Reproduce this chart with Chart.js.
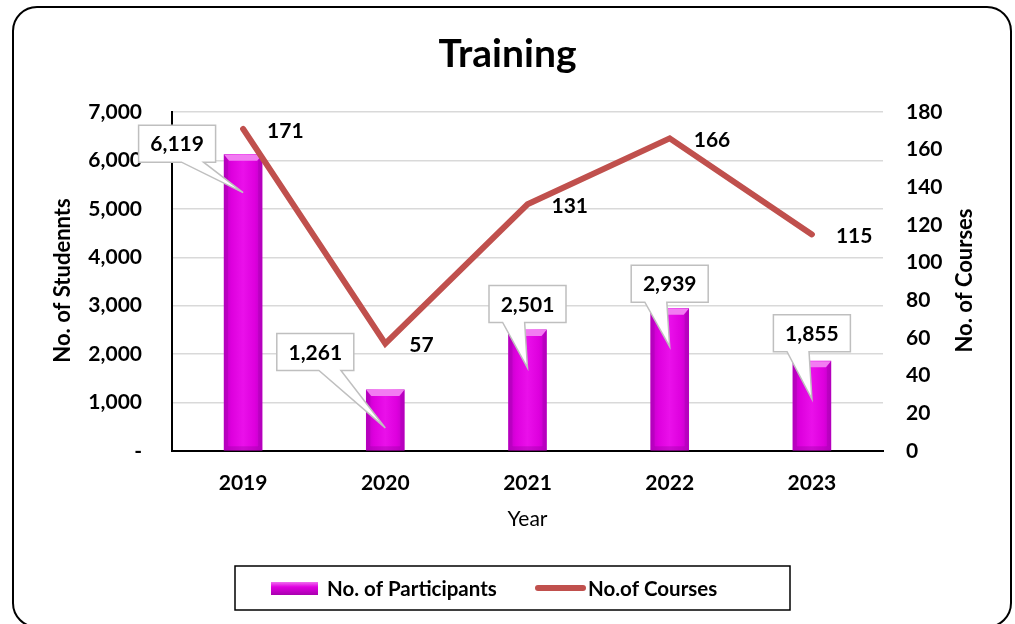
<!DOCTYPE html>
<html><head><meta charset="utf-8">
<script src="https://cdn.jsdelivr.net/npm/chart.js@4.4.1/dist/chart.umd.min.js"></script>
<style>html,body{margin:0;padding:0;background:#fff}canvas{display:block}</style>
</head><body>
<canvas id="c" width="1015" height="624"></canvas>
<script>
const years = ['2019', '2020', '2021', '2022', '2023'];
const participants = [6119, 1261, 2501, 2939, 1855];
const courses = [171, 57, 131, 166, 115];
const chartTitle = 'Training';
const leftAxisTitle = 'No. of Studennts';
const rightAxisTitle = 'No. of Courses';
const xAxisTitle = 'Year';
const seriesNames = ['No. of Participants', 'No.of Courses'];

const FONT = 'Lato, "Liberation Sans", sans-serif';
Chart.defaults.font.family = FONT;
Chart.defaults.color = '#000';

const fmt = v => v.toLocaleString('en-US');

// callout placement style (box centre offset from bar top, tail base position as fraction of box width)
const calloutStyle = [
  { dx: -66, dy: -11, base: 0.70 },
  { dx: -70, dy: -38, base: 0.69 },
  { dx: 0, dy: -26, base: 0.32 },
  { dx: 0, dy: -25, base: 0.32 },
  { dx: 0, dy: -28, base: 0.32 }
];

const decorPlugin = {
  id: 'decor',
  afterDatasetDraw(chart, args) {
    if (args.index !== 0) return;
    const ctx = chart.ctx;
    const meta = chart.getDatasetMeta(0);
    meta.data.forEach(bar => {
      const w = bar.width, x0 = bar.x - w / 2, x1 = bar.x + w / 2, y = bar.y, b = bar.base;
      ctx.save();
      ctx.beginPath();
      ctx.moveTo(x0, y); ctx.lineTo(x1, y); ctx.lineTo(x1 - 5, y + 6); ctx.lineTo(x0 + 5, y + 6); ctx.closePath();
      ctx.fillStyle = '#F27CF2'; ctx.fill();
      ctx.beginPath();
      ctx.moveTo(x0, y); ctx.lineTo(x0 + 4, y + 6); ctx.lineTo(x0 + 4, b - 4); ctx.lineTo(x0, b); ctx.closePath();
      ctx.fillStyle = 'rgba(150,0,160,0.3)'; ctx.fill();
      ctx.beginPath();
      ctx.moveTo(x1, y); ctx.lineTo(x1 - 4, y + 6); ctx.lineTo(x1 - 4, b - 4); ctx.lineTo(x1, b); ctx.closePath();
      ctx.fillStyle = 'rgba(150,0,160,0.3)'; ctx.fill();
      ctx.beginPath();
      ctx.moveTo(x0, b); ctx.lineTo(x0 + 4, b - 4); ctx.lineTo(x1 - 4, b - 4); ctx.lineTo(x1, b); ctx.closePath();
      ctx.fillStyle = 'rgba(150,0,160,0.35)'; ctx.fill();
      ctx.restore();
    });
  },
  afterDraw(chart) {
    const ctx = chart.ctx;
    const area = chart.chartArea;
    ctx.save();
    const meta = chart.getDatasetMeta(0);
    ctx.font = 'bold 21px ' + FONT;
    meta.data.forEach((bar, i) => {
      const st = calloutStyle[i];
      const bw = 77, bh = 37;
      const cx = bar.x + st.dx, cy = bar.y + st.dy;
      const L = cx - bw / 2, R = cx + bw / 2, T = cy - bh / 2, B = cy + bh / 2;
      const tipX = bar.x, tipY = bar.y + 38;
      const bc = L + st.base * bw;
      ctx.beginPath();
      ctx.moveTo(L, T); ctx.lineTo(R, T); ctx.lineTo(R, B);
      ctx.lineTo(bc + 11, B); ctx.lineTo(tipX, tipY); ctx.lineTo(bc - 11, B);
      ctx.lineTo(L, B); ctx.closePath();
      ctx.fillStyle = '#fff'; ctx.fill();
      ctx.strokeStyle = '#BFBFBF'; ctx.lineWidth = 1.5; ctx.stroke();
      ctx.fillStyle = '#000'; ctx.textAlign = 'center'; ctx.textBaseline = 'middle';
      ctx.fillText(fmt(participants[i]), cx, cy + 1);
    });
    const lmeta = chart.getDatasetMeta(1);
    lmeta.data.forEach((pt, i) => {
      ctx.fillStyle = '#000'; ctx.textAlign = 'left'; ctx.textBaseline = 'middle';
      ctx.fillText(String(courses[i]), pt.x + 24, pt.y + 2);
    });
    ctx.font = 'bold 22px ' + FONT;
    const midY = (area.top + area.bottom) / 2;
    ctx.save(); ctx.translate(63, midY - 1); ctx.rotate(-Math.PI / 2);
    ctx.textAlign = 'center'; ctx.textBaseline = 'middle'; ctx.fillText(leftAxisTitle, 0, 0); ctx.restore();
    ctx.save(); ctx.translate(965, midY - 1); ctx.rotate(-Math.PI / 2);
    ctx.textAlign = 'center'; ctx.textBaseline = 'middle'; ctx.fillText(rightAxisTitle, 0, 0); ctx.restore();
    ctx.font = '21px ' + FONT;
    ctx.textAlign = 'center'; ctx.textBaseline = 'middle';
    ctx.fillText(xAxisTitle, (area.left + area.right) / 2, 519);
    ctx.lineWidth = 1.5; ctx.strokeStyle = '#000';
    ctx.strokeRect(235, 566, 555, 44);
    const g = ctx.createLinearGradient(0, 582, 0, 596);
    g.addColorStop(0, '#F070F0'); g.addColorStop(0.35, '#E000E0'); g.addColorStop(1, '#A000A8');
    ctx.fillStyle = g; ctx.fillRect(271, 582, 47, 13);
    ctx.fillStyle = '#000'; ctx.textAlign = 'left'; ctx.textBaseline = 'middle';
    ctx.font = 'bold 20.5px ' + FONT;
    ctx.fillText(seriesNames[0], 327, 589);
    ctx.beginPath(); ctx.moveTo(538, 588); ctx.lineTo(583, 588);
    ctx.strokeStyle = '#C0504D'; ctx.lineWidth = 6; ctx.lineCap = 'round'; ctx.stroke();
    ctx.fillStyle = '#000';
    ctx.fillText(seriesNames[1], 588, 589);
    ctx.beginPath();
    ctx.roundRect(13, 7, 998, 620, 24);
    ctx.strokeStyle = '#000'; ctx.lineWidth = 2; ctx.lineCap = 'butt'; ctx.stroke();
    ctx.restore();
  }
};

new Chart(document.getElementById('c'), {
  data: {
    labels: years,
    datasets: [
      {
        type: 'bar',
        label: seriesNames[0],
        data: participants,
        yAxisID: 'y',
        order: 1,
        barThickness: 38,
        backgroundColor: (c) => {
          const chart = c.chart;
          if (c.type !== 'data' || !chart.scales.x) return '#DD00DD';
          const x = chart.scales.x.getPixelForValue(c.dataIndex);
          if (!isFinite(x)) return '#DD00DD';
          const g = chart.ctx.createLinearGradient(x - 19, 0, x + 19, 0);
          g.addColorStop(0, '#C000C8');
          g.addColorStop(0.2, '#DE00DE');
          g.addColorStop(0.5, '#EA10EA');
          g.addColorStop(0.8, '#DE00DE');
          g.addColorStop(1, '#C000C8');
          return g;
        },
        borderWidth: 0
      },
      {
        type: 'line',
        label: seriesNames[1],
        data: courses,
        yAxisID: 'y1',
        order: 0,
        borderColor: '#C0504D',
        borderWidth: 6,
        pointRadius: 0,
        tension: 0,
        borderCapStyle: 'round',
        borderJoinStyle: 'miter'
      }
    ]
  },
  options: {
    responsive: false,
    devicePixelRatio: 1,
    animation: false,
    layout: { padding: { top: 0, left: 0, right: 0, bottom: 113 } },
    plugins: {
      legend: { display: false },
      tooltip: { enabled: false },
      title: {
        display: true, text: chartTitle,
        font: { size: 39, weight: 'bold', family: FONT, lineHeight: 1.2 },
        color: '#000',
        padding: { top: 31, bottom: 34.2 }
      }
    },
    scales: {
      x: {
        offset: true,
        grid: { display: false, drawTicks: false },
        border: { display: true, color: '#000', width: 2 },
        ticks: { font: { size: 21, weight: 'bold' }, padding: 20, color: '#000' },
        afterFit: s => { s.height = 60; }
      },
      y: {
        position: 'left',
        min: 0, max: 7000,
        ticks: { stepSize: 1000, font: { size: 21, weight: 'bold' }, padding: 30, color: '#000',
          callback: v => v === 0 ? '-' : fmt(v) },
        grid: { color: '#D9D9D9', lineWidth: 1.5, drawTicks: false },
        border: { display: true, color: '#000', width: 2 },
        afterFit: s => { s.width = 172; }
      },
      y1: {
        position: 'right',
        min: 0, max: 180,
        ticks: { stepSize: 20, font: { size: 21, weight: 'bold' }, padding: 23, color: '#000' },
        grid: { display: false, drawTicks: false },
        border: { display: false },
        afterFit: s => { s.width = 132; }
      }
    }
  },
  plugins: [decorPlugin]
});
</script>
</body></html>
